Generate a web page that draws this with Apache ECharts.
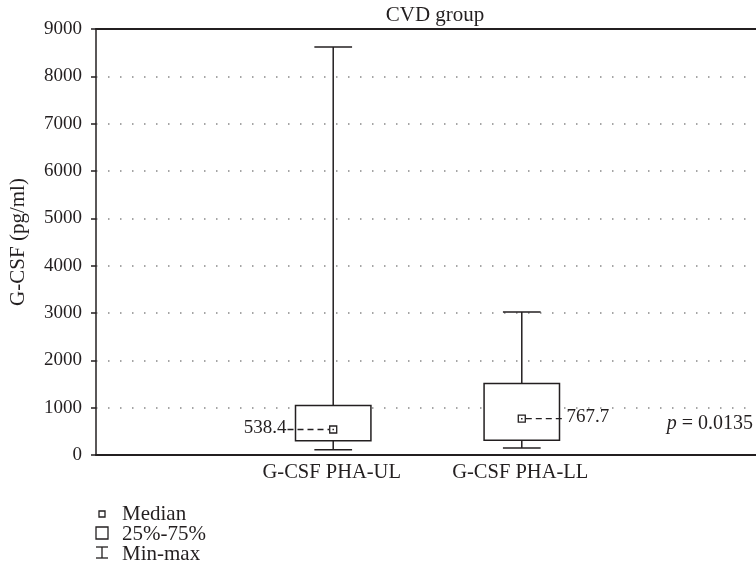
<!DOCTYPE html>
<html>
<head>
<meta charset="utf-8">
<script src="https://cdn.jsdelivr.net/npm/echarts@6/dist/echarts.min.js"></script>
<style>
  html, body { margin: 0; padding: 0; background: #fff; }
  #chart { width: 756px; height: 579px; }
</style>
</head>
<body>
<div id="chart"></div>
<script>
// values
const categories = ['G-CSF PHA-UL', 'G-CSF PHA-LL']
const mins = [110, 150]
const q1s = [300, 310]
const medians = [538.4, 767.7]
const q3s = [1045, 1510]
const maxs = [8620, 3020]
const yTicks = [0, 1000, 2000, 3000, 4000, 5000, 6000, 7000, 8000, 9000]
const pText = '0.0135'

const FONT = '"Liberation Serif", "DejaVu Serif", serif'
const INK = '#231f20'

// the two boxes sit on slots 2 and 4 of a seven-slot axis
const slotOf = [2, 4]
const slots = ['', '', '', '', '', '', '']
categories.forEach((c, i) => { slots[slotOf[i]] = c })

const boxData = categories.map((c, i) => [slotOf[i], mins[i], q1s[i], medians[i], q3s[i], maxs[i]])

function renderItem(params, api) {
  const x = api.value(0)
  const pMin = api.coord([x, api.value(1)])
  const pQ1 = api.coord([x, api.value(2)])
  const pMed = api.coord([x, api.value(3)])
  const pQ3 = api.coord([x, api.value(4)])
  const pMax = api.coord([x, api.value(5)])
  const cx = pMin[0] + 1.5
  const bw = api.size([1, 0])[0] * 0.8
  const cw = bw / 2
  const line = { stroke: INK, lineWidth: 1.5, fill: null }
  const my = pMed[1]
  const leftSide = params.dataIndex === 0
  const dashFrom = leftSide ? cx - bw / 2 - 8 : cx + 4
  const dashTo = leftSide ? cx - 4 : cx + bw / 2 + 6
  return {
    type: 'group',
    children: [
      { type: 'line', shape: { x1: cx, y1: pQ3[1], x2: cx, y2: pMax[1] }, style: line },
      { type: 'line', shape: { x1: cx - cw / 2, y1: pMax[1], x2: cx + cw / 2, y2: pMax[1] }, style: line },
      { type: 'line', shape: { x1: cx, y1: pQ1[1], x2: cx, y2: pMin[1] }, style: line },
      { type: 'line', shape: { x1: cx - cw / 2, y1: pMin[1], x2: cx + cw / 2, y2: pMin[1] }, style: line },
      { type: 'rect', shape: { x: cx - bw / 2, y: pQ3[1], width: bw, height: pQ1[1] - pQ3[1] },
        style: { stroke: INK, lineWidth: 1.5, fill: '#fff' } },
      { type: 'line', shape: { x1: dashFrom, y1: my, x2: dashTo, y2: my },
        style: { stroke: INK, lineWidth: 1.3, lineDash: [6, 4], fill: null } },
      { type: 'rect', shape: { x: cx - 3.5, y: my - 3.5, width: 7, height: 7 },
        style: { stroke: INK, lineWidth: 1.3, fill: '#fff' } },
      { type: 'rect', shape: { x: cx - 0.75, y: my - 0.75, width: 1.5, height: 1.5 },
        style: { fill: INK } },
      { type: 'text',
        style: {
          text: String(api.value(3)),
          x: leftSide ? dashFrom - 1 : dashTo + 1,
          y: my - 2,
          align: leftSide ? 'right' : 'left',
          verticalAlign: 'middle',
          font: '19px ' + FONT,
          fill: INK
        } }
    ]
  }
}

const chart = echarts.init(document.getElementById('chart'))
const option = {
  animation: false,
  title: {
    text: 'CVD group',
    left: 430,
    top: 0,
    textAlign: 'center',
    textStyle: { fontFamily: FONT, fontSize: 21, fontWeight: 'normal', color: INK }
  },
  grid: { left: 96, right: 0, top: 29, bottom: 124 },
  xAxis: [
    {
      type: 'category',
      data: slots,
      axisLine: { lineStyle: { color: INK, width: 2 } },
      axisTick: { show: false },
      axisLabel: { interval: 0, margin: 7, color: INK, fontFamily: FONT, fontSize: 20.5 }
    },
    {
      type: 'category',
      position: 'top',
      data: slots,
      axisLine: { lineStyle: { color: INK, width: 2 } },
      axisTick: { show: false },
      axisLabel: { show: false }
    }
  ],
  yAxis: {
    type: 'value',
    min: yTicks[0],
    max: yTicks[yTicks.length - 1],
    interval: yTicks[1] - yTicks[0],
    name: 'G-CSF (pg/ml)',
    nameLocation: 'middle',
    nameGap: 67,
    nameTextStyle: { fontFamily: FONT, fontSize: 21, color: INK },
    axisLine: { show: true, lineStyle: { color: INK, width: 1.5 } },
    axisTick: { show: true, length: 5, lineStyle: { color: INK, width: 1.5 } },
    axisLabel: { margin: 14, color: INK, fontFamily: FONT, fontSize: 19, formatter: v => String(v) },
    splitLine: { show: true, lineStyle: { color: '#888', width: 1.5, type: [1.5, 10.5] } }
  },
  series: [
    {
      type: 'custom',
      renderItem: renderItem,
      data: boxData,
      encode: { x: 0, y: [1, 2, 3, 4, 5] },
      silent: true
    }
  ],
  graphic: [
    {
      type: 'text', right: 3, top: 414,
      style: {
        text: '{i|p} = ' + pText,
        font: '20px ' + FONT,
        fill: INK,
        rich: { i: { fontStyle: 'italic', fontFamily: FONT, fontSize: 20 } }
      }
    },
    { type: 'rect', shape: { x: 99, y: 511, width: 6, height: 6 }, style: { stroke: INK, lineWidth: 1.3, fill: '#fff' } },
    { type: 'text', x: 122, y: 514, style: { text: 'Median', font: '21px ' + FONT, fill: INK, verticalAlign: 'middle' } },
    { type: 'rect', shape: { x: 96, y: 527, width: 12, height: 12 }, style: { stroke: INK, lineWidth: 1.3, fill: '#fff' } },
    { type: 'text', x: 122, y: 534, style: { text: '25%-75%', font: '21px ' + FONT, fill: INK, verticalAlign: 'middle' } },
    { type: 'line', shape: { x1: 96, y1: 547, x2: 108, y2: 547 }, style: { stroke: INK, lineWidth: 1.3 } },
    { type: 'line', shape: { x1: 102, y1: 547, x2: 102, y2: 558 }, style: { stroke: INK, lineWidth: 1.3 } },
    { type: 'line', shape: { x1: 96, y1: 558, x2: 108, y2: 558 }, style: { stroke: INK, lineWidth: 1.3 } },
    { type: 'text', x: 122, y: 554, style: { text: 'Min-max', font: '21px ' + FONT, fill: INK, verticalAlign: 'middle' } }
  ]
}
chart.setOption(option)
</script>
</body>
</html>
